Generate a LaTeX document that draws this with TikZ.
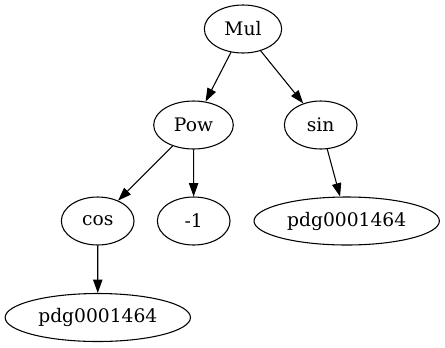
\documentclass[tikz,border=0pt]{standalone}
\usepackage{fontspec}
\setmainfont{DejaVu Serif}
\usetikzlibrary{shapes.geometric,arrows.meta}
\begin{document}
\begin{tikzpicture}[x=0.75pt,y=-0.75pt,
  nd/.style={draw,ellipse,inner sep=0pt,minimum height=36pt,minimum width=54.5pt,font=\fontsize{14pt}{16pt}\selectfont,line width=0.8pt},
  wide/.style={nd,minimum width=139pt},
  edge/.style={line width=0.8pt,-{Triangle[length=10pt,width=7pt]}}]
\useasboundingbox (0,0) rectangle (445,347);
\node[nd,minimum width=58pt] (mul) at (243,29) {Mul};
\node[nd,minimum width=59.7pt] (pow) at (193.5,125) {Pow};
\node[nd] (sin) at (320.7,125) {sin};
\node[nd] (cos) at (97.7,221) {cos};
\node[nd] (m1) at (193.7,221) {-1};
\node[wide] (p1) at (346.7,221) {pdg0001464};
\node[wide] (p2) at (97.8,317.5) {pdg0001464};
\draw[edge] (mul) -- (pow);
\draw[edge] (mul) -- (sin);
\draw[edge] (pow) -- (cos);
\draw[edge] (pow) -- (m1);
\draw[edge] (sin) -- (p1);
\draw[edge] (cos) -- (p2);
\end{tikzpicture}
\end{document}
